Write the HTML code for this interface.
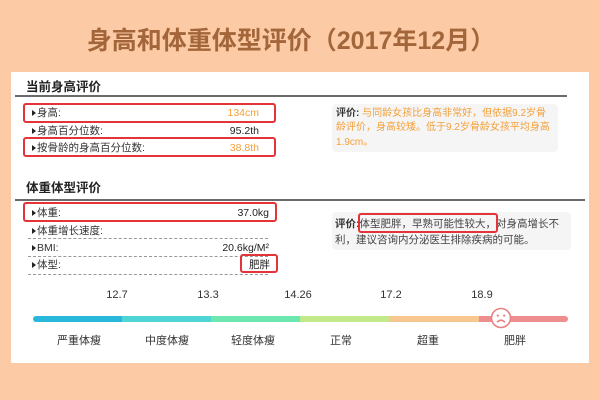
<!DOCTYPE html>
<html><head><meta charset="utf-8">
<style>
*{box-sizing:border-box}
body{margin:0;width:600px;height:400px;background:#fccaa4;position:relative;overflow:hidden;font-family:"Liberation Sans","Noto Sans CJK SC",sans-serif;color:#333}
.a{position:absolute;white-space:nowrap}
.title{left:-9px;width:600px;top:25px;line-height:32px;font-size:25px;font-weight:bold;color:#a2663a;text-align:center}
.panel{left:11px;top:72px;width:578px;height:291px;background:#fff}
.h{font-size:12.5px;font-weight:bold;color:#222;line-height:16px}
.hl{height:2px;background:#6a6a6a}
.row{font-size:10.5px;line-height:16px;color:#333}
.tri{width:0;height:0;border-top:3.5px solid transparent;border-bottom:3.5px solid transparent;border-left:4.5px solid #222}
.val{text-align:right;font-size:10.5px;line-height:16px}
.org{color:#f3a03a}
.rb{border:2px solid #e3343a;border-radius:3px}
.dot{height:0;border-top:1px dashed #999}
.cbox{background:#f5f5f5;border-radius:4px;white-space:nowrap}
.lab{font-size:11px;line-height:14px;color:#333;text-align:center;width:60px}
.seg{height:6px;top:316px}
</style></head><body>
<div class="a title">身高和体重体型评价（2017年12月）</div>
<div class="a panel"></div>

<!-- section 1 -->
<div class="a h" style="left:26px;top:79px">当前身高评价</div>
<div class="a hl" style="left:15px;top:95px;width:552px"></div>

<div class="a tri" style="left:32px;top:109.5px"></div>
<div class="a row" style="left:37px;top:105px">身高:</div>
<div class="a val org" style="left:160px;width:99px;top:105px">134cm</div>
<div class="a rb" style="left:23px;top:103px;width:253px;height:20px"></div>

<div class="a tri" style="left:32px;top:127.5px"></div>
<div class="a row" style="left:37px;top:123px">身高百分位数:</div>
<div class="a val" style="left:160px;width:99px;top:123px;color:#222">95.2th</div>

<div class="a tri" style="left:32px;top:144.5px"></div>
<div class="a row" style="left:37px;top:140px">按骨龄的身高百分位数:</div>
<div class="a val org" style="left:160px;width:99px;top:140px">38.8th</div>
<div class="a rb" style="left:23px;top:137px;width:253px;height:20px"></div>

<div class="a cbox" style="left:332px;top:104px;width:226px;height:48px;padding:2.5px 0 0 4px;line-height:14.5px;font-size:10px">
<span style="font-weight:bold;color:#333">评价:</span> <span class="org">与同龄女孩比身高非常好，但依据9.2岁骨<br>龄评价，身高较矮。低于9.2岁骨龄女孩平均身高<br>1.9cm。</span>
</div>

<!-- section 2 -->
<div class="a h" style="left:26px;top:180px">体重体型评价</div>
<div class="a hl" style="left:15px;top:199px;width:570px"></div>

<div class="a tri" style="left:32px;top:209.5px"></div>
<div class="a row" style="left:37px;top:205px">体重:</div>
<div class="a val" style="left:170px;width:99px;top:205px;color:#222">37.0kg</div>
<div class="a dot" style="left:28px;top:221px;width:240px"></div>
<div class="a rb" style="left:23px;top:202px;width:254px;height:20px"></div>

<div class="a tri" style="left:32px;top:227.5px"></div>
<div class="a row" style="left:37px;top:223px">体重增长速度:</div>
<div class="a dot" style="left:28px;top:238px;width:240px"></div>

<div class="a tri" style="left:32px;top:244.5px"></div>
<div class="a row" style="left:37px;top:240px">BMI:</div>
<div class="a val" style="left:170px;width:99px;top:240px;color:#222">20.6kg/M²</div>
<div class="a dot" style="left:28px;top:256px;width:240px"></div>

<div class="a tri" style="left:32px;top:261.5px"></div>
<div class="a row" style="left:37px;top:257px">体型:</div>
<div class="a val" style="left:170px;width:100px;top:257px;color:#222">肥胖</div>
<div class="a dot" style="left:28px;top:274px;width:240px"></div>
<div class="a rb" style="left:240px;top:254px;width:38px;height:19px"></div>

<div class="a cbox" style="left:332px;top:212px;width:239px;height:38px;padding:0 0 0 3px;line-height:16px;padding-top:4px;color:#444;font-size:10.5px">
<span style="font-weight:bold;color:#333">评价:</span>体型肥胖，早熟可能性较大，对身高增长不<br>利，建议咨询内分泌医生排除疾病的可能。
</div>
<div class="a rb" style="left:358px;top:213px;width:140px;height:20px"></div>

<!-- scale -->
<div class="a lab" style="left:87px;top:288px">12.7</div>
<div class="a lab" style="left:178px;top:288px">13.3</div>
<div class="a lab" style="left:268px;top:288px">14.26</div>
<div class="a lab" style="left:361px;top:288px">17.2</div>
<div class="a lab" style="left:452px;top:288px">18.9</div>

<div class="a seg" style="left:33px;width:89px;background:#29b7dc;border-radius:3px 0 0 3px"></div>
<div class="a seg" style="left:122px;width:89px;background:#4fd5d6"></div>
<div class="a seg" style="left:211px;width:89px;background:#6ce7b0"></div>
<div class="a seg" style="left:300px;width:89px;background:#c3e98a"></div>
<div class="a seg" style="left:389px;width:90px;background:#f8c78f"></div>
<div class="a seg" style="left:479px;width:89px;background:#ee8e8e;border-radius:0 3px 3px 0"></div>

<svg class="a" style="left:490px;top:307px" width="22" height="22" viewBox="0 0 22 22">
<circle cx="11" cy="11" r="9.5" fill="#fff" stroke="#e98080" stroke-width="1.6"/>
<circle cx="7.8" cy="8.6" r="1.1" fill="#e98080"/>
<circle cx="14.2" cy="8.6" r="1.1" fill="#e98080"/>
<path d="M7 15.2 Q11 11.2 15 15.2" fill="none" stroke="#e98080" stroke-width="1.5"/>
</svg>

<div class="a lab" style="left:49px;top:334px">严重体瘦</div>
<div class="a lab" style="left:137px;top:334px">中度体瘦</div>
<div class="a lab" style="left:223px;top:334px">轻度体瘦</div>
<div class="a lab" style="left:311px;top:334px">正常</div>
<div class="a lab" style="left:398px;top:334px">超重</div>
<div class="a lab" style="left:485px;top:334px">肥胖</div>
</body></html>
